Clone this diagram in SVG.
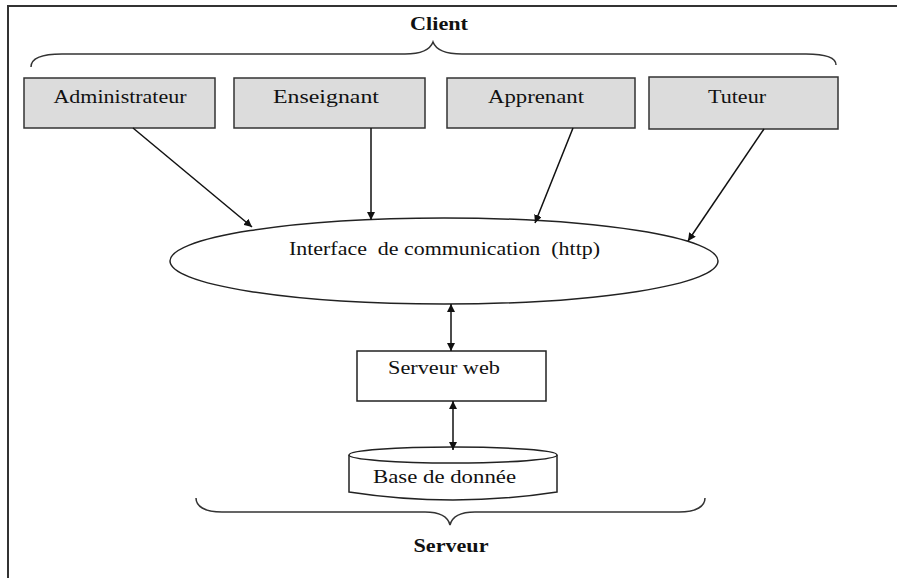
<svg xmlns="http://www.w3.org/2000/svg" width="897" height="578" viewBox="0 0 897 578">
  <style>
    text { font-family: "Liberation Serif", "Times New Roman", serif; font-size: 19px; fill: #111; }
    .title { font-weight: bold; text-anchor: middle; }
    .mid { text-anchor: middle; }
    .actor { fill: #dcdcdc; stroke: #333; stroke-width: 1.5; }
    .plain { fill: #fff; stroke: #222; stroke-width: 1.5; }
    .brace { fill: none; stroke: #333; stroke-width: 1.5; }
    .link { fill: none; stroke: #111; stroke-width: 1.5; }
  </style>
  <defs>
    <marker id="tip" viewBox="0 0 10 10" refX="10" refY="5" markerWidth="8" markerHeight="8" orient="auto-start-reverse" markerUnits="userSpaceOnUse">
      <path d="M0,0 L10,5 L0,10 Z" fill="#111"/>
    </marker>
  </defs>
  <rect width="897" height="578" fill="#fff"/>

  <!-- outer frame, open on the right and bottom -->
  <path d="M8,578 L8,6 L897,6" fill="none" stroke="#333" stroke-width="2"/>

  <!-- client side grouping -->
  <g id="client-group">
    <text class="title" x="439" y="30" textLength="58" lengthAdjust="spacingAndGlyphs">Client</text>
    <path class="brace" d="M31,67 C31,59 40,54 62,54 L405,54 C421,54 430,50 433,42 C436,50 446,54 462,54 L806,54 C826,54 836,58 836,65"/>
  </g>

  <g id="administrateur">
    <rect class="actor" x="24" y="78" width="191" height="50"/>
    <text class="mid" x="120" y="103" textLength="133" lengthAdjust="spacingAndGlyphs">Administrateur</text>
  </g>
  <g id="enseignant">
    <rect class="actor" x="234" y="78" width="191" height="50"/>
    <text class="mid" x="326" y="103" textLength="106" lengthAdjust="spacingAndGlyphs">Enseignant</text>
  </g>
  <g id="apprenant">
    <rect class="actor" x="447" y="78" width="188" height="50"/>
    <text class="mid" x="536" y="103" textLength="96" lengthAdjust="spacingAndGlyphs">Apprenant</text>
  </g>
  <g id="tuteur">
    <rect class="actor" x="649" y="77" width="189" height="52"/>
    <text class="mid" x="737" y="103" textLength="58" lengthAdjust="spacingAndGlyphs">Tuteur</text>
  </g>

  <g id="interface">
    <ellipse class="plain" cx="444" cy="261" rx="274" ry="43"/>
    <text x="289" y="255" textLength="311" lengthAdjust="spacingAndGlyphs" xml:space="preserve">Interface  de communication  (http)</text>
  </g>

  <g id="serveur-web">
    <rect class="plain" x="357" y="351" width="189" height="50"/>
    <text x="388" y="374" textLength="112" lengthAdjust="spacingAndGlyphs">Serveur web</text>
  </g>

  <g id="base-de-donnee">
    <path class="plain" d="M349,455 L349,492 Q453,508 557,492 L557,455"/>
    <ellipse class="plain" cx="453" cy="455" rx="104" ry="8"/>
    <text x="373" y="483" textLength="143" lengthAdjust="spacingAndGlyphs">Base de donnée</text>
  </g>

  <!-- server side grouping -->
  <g id="serveur-group">
    <path class="brace" d="M196,498 C196,506 204,512 222,512 L425,512 C440,512 448,517 450,525 C452,517 460,512 475,512 L679,512 C697,512 705,506 705,498"/>
    <text class="title" x="451" y="552" textLength="75" lengthAdjust="spacingAndGlyphs">Serveur</text>
  </g>

  <g id="connectors">
    <line class="link" x1="133" y1="128" x2="252" y2="227" marker-end="url(#tip)"/>
    <line class="link" x1="371" y1="128" x2="371" y2="220" marker-end="url(#tip)"/>
    <line class="link" x1="573" y1="128" x2="535" y2="223" marker-end="url(#tip)"/>
    <line class="link" x1="764" y1="129" x2="688" y2="241" marker-end="url(#tip)"/>
    <line class="link" x1="451" y1="304" x2="451" y2="351" marker-start="url(#tip)" marker-end="url(#tip)"/>
    <line class="link" x1="453" y1="401" x2="453" y2="450" marker-start="url(#tip)" marker-end="url(#tip)"/>
  </g>
</svg>
